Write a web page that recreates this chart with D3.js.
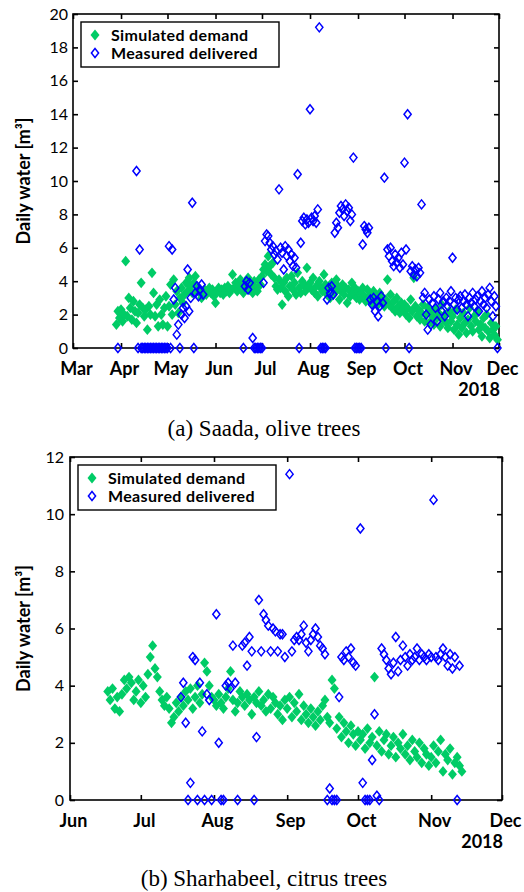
<!DOCTYPE html>
<html>
<head>
<meta charset="utf-8">
<script src="https://cdnjs.cloudflare.com/ajax/libs/d3/7.8.5/d3.min.js"></script>
<style>
  body { margin: 0; background: #fff; }
  svg { display: block; }
  .tick text { fill: #000; }
</style>
</head>
<body>
<svg id="fig" width="524" height="892"></svg>
<script>
// ---- data (daily values) ----
const parseDay = d3.utcParse("%Y-%m-%d");

// (a) Saada, olive trees
const saadaStart = "2018-03-29";
const saadaDemand = [
  1.4, 2.2, 1.8,
  // Apr
  2.3, 1.6, 2.0, 5.2, 1.9, 3.0, 2.4, 1.7, 2.8, 2.2,
  1.5, 2.1, 2.6, 3.9, 2.4, 1.9, 2.3, 1.1, 2.5, 2.0,
  4.5, 3.3, 1.9, 2.6, 1.3, 2.9, 2.0, 1.4, 2.4, 3.1,
  // May
  1.3, 2.5, 3.8, 2.0, 4.1, 2.6, 3.4, 2.1, 3.0, 3.6,
  2.7, 3.2, 3.9, 3.4, 4.2, 3.7, 3.3, 3.9, 4.3, 3.5,
  3.6, 3.3, 3.0, 3.4, 3.5, 3.2, 3.4, 3.6, 3.3, 3.5, 3.1,
  // Jun
  2.7, 3.4, 3.6, 3.3, 3.5, 3.2, 3.6, 3.4, 3.7, 3.3,
  3.5, 4.4, 3.6, 3.9, 3.4, 3.8, 4.1, 3.5, 3.3, 3.9,
  3.6, 4.2, 3.5, 3.8, 3.3, 4.0, 3.6, 3.4, 4.1, 3.8,
  // Jul
  4.3, 4.7, 5.0, 4.6, 5.5, 4.9, 4.4, 5.1, 4.2, 3.7,
  3.5, 4.1, 3.6, 2.6, 3.9, 3.4, 4.2, 3.1, 3.7, 4.3,
  3.5, 3.9, 3.2, 4.5, 3.6, 3.3, 4.0, 3.8, 3.4, 4.8, 3.7,
  // Aug
  3.9, 3.5, 4.2, 3.3, 3.7, 3.1, 4.0, 3.6, 3.4, 4.4,
  3.8, 3.2, 3.6, 3.0, 3.9, 3.5, 3.3, 4.1, 3.7, 2.9,
  3.4, 3.8, 3.2, 3.6, 2.7, 3.5, 3.1, 3.9, 3.3, 3.6, 3.0,
  // Sep
  3.4, 2.9, 3.3, 3.6, 3.1, 2.8, 3.5, 3.0, 3.2, 2.7,
  3.4, 2.9, 3.1, 2.6, 3.3, 2.8, 3.0, 2.5, 2.9, 4.1,
  2.6, 3.2, 2.4, 2.8, 2.2, 3.0, 2.5, 2.1, 2.7, 2.3,
  // Oct
  2.6, 2.0, 2.4, 1.8, 2.9, 2.2, 4.2, 2.5, 1.9, 2.3,
  1.7, 2.1, 2.6, 1.6, 2.0, 2.4, 1.5, 2.2, 1.9, 1.4,
  2.3, 1.8, 2.1, 1.3, 2.6, 1.7, 2.0, 1.5, 1.2, 2.2, 1.6,
  // Nov
  1.9, 1.1, 2.3, 1.4, 0.8, 1.8, 1.2, 2.1, 1.5, 0.9,
  1.7, 2.4, 1.3, 1.0, 1.9, 1.6, 2.2, 1.1, 1.4, 0.7,
  1.8, 1.2, 2.0, 1.0, 0.6, 1.5, 1.1, 0.8, 1.3, 0.5
];
const saadaDelivered = [
  null, 0, null,
  // Apr
  null, null, null, null, null, null, null, null, null, null,
  10.6, 0, 5.9, 0, 0, 0, 0, 0, 0, 0,
  0, 0, 0, 0, 0, 0, 0, 0, 0, 0,
  // May
  0, 6.1, 0, 5.9, 2.9, 3.6, 0.8, 1.4, 0, 2.0,
  2.4, 1.8, 2.5, 4.7, 2.2, 3.0, 8.7, 0, 3.3, 3.7,
  3.1, 3.5, 3.8, 3.2, null, null, null, null, null, null, null,
  // Jun
  null, null, null, null, null, null, null, null, null, null,
  null, null, null, null, null, null, null, null, 0, 3.7,
  4.0, 3.5, 3.9, null, 0.6, 0, 0, 0, 0, 0,
  // Jul
  0, 3.9, 6.4, 6.8, 6.7, 6.3, 5.9, 6.1, 5.6, 5.8,
  5.3, 9.5, 6.0, 5.7, 4.7, 6.1, 5.5, 5.9, 5.2, 5.6,
  4.9, 5.4, 4.8, 10.4, 0, 6.3, 7.6, 7.8, 7.4, 7.7, 7.5,
  // Aug
  14.3, 7.8, 7.6, 7.9, 7.5, 8.3, 19.2, 0, 0, 0,
  0, 2.9, 3.6, 3.3, 3.7, 3.2, 6.9, 7.5, 7.2, 8.1,
  8.5, 8.3, 7.9, 8.6, 8.2, 8.4, 7.6, 8.0, 11.4, 0, 0,
  // Sep
  0, 0, 0, 6.2, 7.3, 7.1, 6.9, 7.2, 2.9, 2.6,
  3.0, 2.2, 2.8, 1.9, 2.5, 3.1, 2.7, 10.2, 0, 5.9,
  5.5, 6.0, 5.2, 4.9, 5.6, 5.1, 5.4, 4.8, 5.7, 5.0,
  // Oct
  11.1, 5.9, 14.0, 0, 4.6, 4.9, 4.4, 4.7, 4.3, 4.8,
  4.5, 8.6, 3.0, 3.3, 2.0, 1.1, 2.9, 1.4, 2.7, 3.1,
  2.4, 1.6, 2.9, 3.3, 2.2, 2.8, 1.9, 3.0, 2.5, 2.8, 3.4,
  // Nov
  5.4, 2.6, 3.0, 2.3, 2.9, 3.1, 2.4, 2.8, 3.2, 2.6,
  1.9, 3.0, 2.7, 3.3, 2.5, 2.9, 3.1, 2.2, 2.8, 3.4,
  2.6, 3.0, 2.4, 3.2, 3.6, 2.8, 1.9, 3.1, 2.5, 0
];
const saadaMonths = ["Mar", "Apr", "May", "Jun", "Jul", "Aug", "Sep", "Oct", "Nov", "Dec"];
const saadaYTicks = [0, 2, 4, 6, 8, 10, 12, 14, 16, 18, 20];

// (b) Sharhabeel, citrus trees
const sharDemandStart = "2018-06-17";
const sharDemand = [
  3.8, 3.5, 3.9, 3.2, 3.6, 3.1, 3.7, 4.2, 3.9, 4.3, 4.1, 3.5, 3.8, 4.2,
  // Jul
  3.4, 4.0, 3.6, 4.4, 5.0, 5.4, 4.6, 4.3, 3.8, 3.5,
  3.3, 3.6, 3.2, 2.7, 2.9, 3.4, 3.1, 3.6, 3.3, 3.8,
  3.5, 3.9, 3.2, 3.6, 4.0, 3.4, 3.7, 4.8, 4.5, 4.0, 3.6,
  // Aug
  3.5, 3.3, 3.7, 3.4, 3.2, 3.6, 3.9, 4.5, 3.5, 3.1,
  3.4, 3.8, 3.6, 3.3, 3.7, 3.5, 3.0, 3.6, 3.4, 3.8,
  3.3, 3.5, 3.1, 3.7, 3.2, 3.6, 3.4, 3.0, 3.3, 2.8, 3.5,
  // Sep
  3.2, 3.6, 2.9, 3.4, 3.1, 3.7, 2.8, 3.3, 3.0, 2.7,
  3.2, 2.9, 2.6, 3.1, 2.8, 3.3, 3.5, 2.9, 2.7, 4.2,
  3.9, 2.5, 2.9, 2.2, 2.7, 2.4, 2.0, 2.6, 2.3, 1.9,
  // Oct
  2.4, 2.1, 2.3, 1.8, 2.5, 2.0, 2.2, 4.3, 1.9, 2.4,
  1.7, 2.1, 2.3, 1.6, 1.9, 2.2, 1.5, 2.0, 1.8, 2.3,
  1.6, 1.9, 1.4, 2.1, 1.7, 1.5, 2.0, 1.3, 1.8, 1.6, 1.2,
  // Nov
  1.5, 1.9, 1.3, 1.7, 2.1, 1.0, 1.6, 1.4, 1.8, 0.9, 1.3, 1.5, 1.2, 1.0
];
const sharDeliveredStart = "2018-07-18";
const sharDelivered = [
  3.6, 4.1, 2.7, 0, 0.6, 5.0, 4.9, 0, 4.1, 2.4, 0, 3.7, 3.5, 0,
  // Aug
  null, 6.5, 2.0, 0, 0, 4.0, 4.1, 3.9, 5.4, 4.1,
  0, null, 5.4, 5.5, 4.7, 5.7, 5.2, 0, 2.2, 7.0,
  5.2, 6.5, 6.3, 6.1, 5.2, 6.0, 5.9, 5.2, 5.8, 5.8, 5.0,
  // Sep
  null, 11.4, 5.2, 5.6, 5.7, 5.6, 5.8, 6.1, 5.5, 5.2,
  5.6, 5.8, 6.0, 5.7, 5.4, 5.3, 5.1, 0, 0.4, 0,
  0, 0, 3.6, 5.0, 4.9, 5.2, 5.0, 5.3, 4.8, 4.7,
  // Oct
  null, 9.5, 0.6, 0, 0, 0, 1.4, 3.0, 0.15, 0,
  5.3, 5.1, 4.9, 4.6, 4.4, 4.8, 5.7, 4.5, 4.9, 5.4,
  5.0, 4.7, 5.1, 4.9, 5.0, 5.3, 4.9, 5.1, 5.0, 4.9, 5.1,
  // Nov
  5.0, 10.5, 5.0, 4.9, 5.1, 5.3, 5.0, 4.7, 5.1, 4.6, 5.0, 0, 4.7
];
const sharMonths = ["Jun", "Jul", "Aug", "Sep", "Oct", "Nov", "Dec"];
const sharYTicks = [0, 2, 4, 6, 8, 10, 12];

const legendLabels = ["Simulated demand", "Measured delivered"];
const demandColor = "#00cc66";
const deliveredColor = "#0000ff";

// ---- drawing ----
const svg = d3.select("#fig");
const sans = "Lato, 'Open Sans', sans-serif";

function toPoints(start, values) {
  const t0 = parseDay(start);
  return values
    .map((v, i) => ({ date: d3.utcDay.offset(t0, i), value: v }))
    .filter(d => d.value !== null);
}

function diamond(w, h) {
  return `M0,${-h}L${w},0L0,${h}L${-w},0Z`;
}

function drawPanel(cfg) {
  const g = svg.append("g");
  const t0 = parseDay(cfg.firstMonth);
  const t1 = d3.utcMonth.offset(t0, cfg.months.length - 1);
  const x = d3.scaleUtc().domain([t0, t1]).range([cfg.left, cfg.right]);
  const y = d3.scaleLinear().domain([0, d3.max(cfg.yTicks)]).range([cfg.bottom, cfg.top]);
  const monthTicks = d3.utcMonth.range(t0, d3.utcDay.offset(t1, 1));

  // frame
  g.append("rect")
    .attr("x", cfg.left).attr("y", cfg.top)
    .attr("width", cfg.right - cfg.left).attr("height", cfg.bottom - cfg.top)
    .attr("fill", "none").attr("stroke", "#000").attr("stroke-width", 1.6);

  // axes, ticks inward
  const bottomAx = g.append("g")
    .attr("transform", `translate(0,${cfg.bottom})`)
    .call(d3.axisBottom(x).tickValues(monthTicks)
      .tickFormat((d, i) => cfg.months[i])
      .tickSizeInner(-5).tickSizeOuter(0).tickPadding(14));
  bottomAx.selectAll("text")
    .attr("dx", 3)
    .style("font-family", sans).style("font-size", "18px").style("font-weight", "bold");

  g.append("g")
    .attr("transform", `translate(0,${cfg.top})`)
    .call(d3.axisTop(x).tickValues(monthTicks).tickFormat("")
      .tickSizeInner(-5).tickSizeOuter(0));

  const leftAx = g.append("g")
    .attr("transform", `translate(${cfg.left},0)`)
    .call(d3.axisLeft(y).tickValues(cfg.yTicks)
      .tickSizeInner(-5).tickSizeOuter(0).tickPadding(cfg.yPad));
  leftAx.selectAll("text")
    .style("font-family", sans).style("font-size", "16px");

  g.append("g")
    .attr("transform", `translate(${cfg.right},0)`)
    .call(d3.axisRight(y).tickValues(cfg.yTicks).tickFormat("")
      .tickSizeInner(-5).tickSizeOuter(0));

  g.selectAll(".domain").remove();
  g.selectAll(".tick line").attr("stroke", "#000").attr("stroke-width", 1.6);

  // year under the last month
  g.append("text")
    .attr("x", cfg.right + 1).attr("y", cfg.bottom + 48)
    .attr("text-anchor", "end")
    .style("font-family", sans).style("font-size", "18px").style("font-weight", "bold")
    .text("2018");

  // y title
  g.append("text")
    .attr("transform", `translate(30,${(cfg.top + cfg.bottom) / 2}) rotate(-90)`)
    .attr("text-anchor", "middle")
    .style("font-family", sans).style("font-size", "18px").style("font-weight", "bold")
    .text("Daily water [m³]");

  // points
  g.append("g").selectAll("path")
    .data(toPoints(cfg.demandStart, cfg.demand))
    .join("path")
    .attr("d", diamond(4.5, 5.4))
    .attr("transform", d => `translate(${x(d.date)},${y(d.value)})`)
    .attr("fill", demandColor);

  g.append("g").selectAll("path")
    .data(toPoints(cfg.deliveredStart, cfg.delivered))
    .join("path")
    .attr("d", diamond(3.6, 4.5))
    .attr("transform", d => `translate(${x(d.date)},${y(d.value)})`)
    .attr("fill", "none")
    .attr("stroke", deliveredColor).attr("stroke-width", 1.5);

  // legend
  const lg = g.append("g").attr("transform", `translate(${cfg.legend[0]},${cfg.legend[1]})`);
  lg.append("rect")
    .attr("width", 198).attr("height", 45)
    .attr("fill", "#fff").attr("stroke", "#000").attr("stroke-width", 1.4);
  lg.append("path").attr("d", diamond(4.5, 5.4))
    .attr("transform", "translate(14,13)").attr("fill", demandColor);
  lg.append("path").attr("d", diamond(3.6, 4.5))
    .attr("transform", "translate(14,31)")
    .attr("fill", "none").attr("stroke", deliveredColor).attr("stroke-width", 1.5);
  lg.selectAll("text.lab")
    .data(legendLabels)
    .join("text").attr("class", "lab")
    .attr("x", 30).attr("y", (d, i) => 13 + i * 18)
    .attr("dy", "0.35em")
    .style("font-family", sans).style("font-size", "16px").style("font-weight", "bold")
    .style("letter-spacing", "0.35px")
    .text(d => d);

  // caption
  svg.append("text")
    .attr("x", 264).attr("y", cfg.caption)
    .attr("text-anchor", "middle")
    .style("font-family", "'Liberation Serif', 'Times New Roman', serif")
    .style("font-size", "23px")
    .text(cfg.title);
}

drawPanel({
  left: 73, right: 499, top: 14, bottom: 348,
  firstMonth: "2018-03-01", months: saadaMonths, yTicks: saadaYTicks, yPad: 5,
  demandStart: saadaStart, demand: saadaDemand,
  deliveredStart: saadaStart, delivered: saadaDelivered,
  legend: [81, 22], caption: 436, title: "(a) Saada, olive trees"
});

drawPanel({
  left: 70, right: 502, top: 457, bottom: 800,
  firstMonth: "2018-06-01", months: sharMonths, yTicks: sharYTicks, yPad: 6,
  demandStart: sharDemandStart, demand: sharDemand,
  deliveredStart: sharDeliveredStart, delivered: sharDelivered,
  legend: [78, 465], caption: 886, title: "(b) Sharhabeel, citrus trees"
});
</script>
</body>
</html>
